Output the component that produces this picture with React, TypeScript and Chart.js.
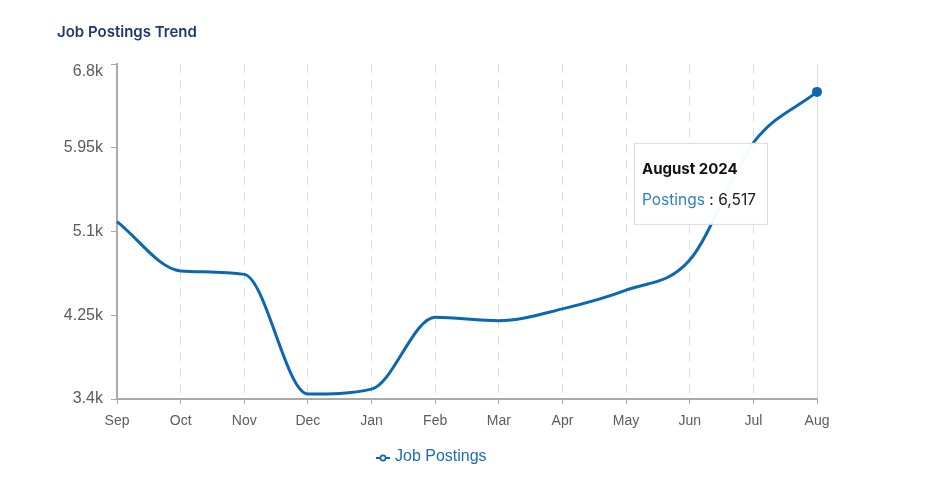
import React, { useEffect, useRef } from "react";
import { Chart, registerables } from "chart.js";

Chart.register(...registerables);

const months = ["Sep", "Oct", "Nov", "Dec", "Jan", "Feb", "Mar", "Apr", "May", "Jun", "Jul", "Aug"];
const postings = [5200, 4700, 4665, 3450, 3500, 4230, 4195, 4315, 4505, 4810, 6000, 6517];
const yTickValues = [3400, 4250, 5100, 5950, 6800];
const yTickLabels = ["3.4k", "4.25k", "5.1k", "5.95k", "6.8k"];
const tooltipTitle = "August 2024";
const tooltipLabel = "Postings";
const seriesName = "Job Postings";

const LINE = "#0b67b0";

const tooltipPlugin = {
  id: "staticTip",
  afterDatasetsDraw(chart: any) {
    const meta = chart.getDatasetMeta(0);
    const idx = postings.length - 1;
    const pt = meta.data[idx];
    if (!pt) return;
    const ctx = chart.ctx;
    const w = 133;
    const h = 81;
    const x = pt.x - 183;
    const y = pt.y + 51;
    ctx.save();
    ctx.fillStyle = "rgba(255,255,255,0.97)";
    ctx.fillRect(x, y, w, h);
    ctx.strokeStyle = "#dcdcdc";
    ctx.lineWidth = 1;
    ctx.strokeRect(x + 0.5, y + 0.5, w, h);
    ctx.textBaseline = "alphabetic";
    ctx.textAlign = "left";
    ctx.fillStyle = "#111";
    ctx.font = "700 15px Inter, 'Liberation Sans', Arial, sans-serif";
    ctx.fillText(tooltipTitle, x + 8, y + 31);
    ctx.font = "400 15.5px Inter, 'Liberation Sans', Arial, sans-serif";
    ctx.fillStyle = "#2f80c3";
    ctx.fillText(tooltipLabel, x + 8, y + 62);
    const lw = ctx.measureText(tooltipLabel).width;
    ctx.fillStyle = "#1a1a1a";
    ctx.fillText(" : " + postings[idx].toLocaleString("en-US"), x + 8 + lw, y + 62);
    ctx.restore();
  },
};

export default function App() {
  const ref = useRef<HTMLCanvasElement | null>(null);
  useEffect(() => {
    if (!ref.current) return;
    const chart = new Chart(ref.current, {
      type: "line",
      data: {
        labels: months,
        datasets: [
          {
            label: seriesName,
            data: postings,
            borderColor: LINE,
            backgroundColor: LINE,
            borderWidth: 3,
            cubicInterpolationMode: "monotone",
            pointRadius: (c: any) => (c.dataIndex === postings.length - 1 ? 5 : 0),
            pointBackgroundColor: LINE,
            pointBorderWidth: 0,
            fill: false,
          },
        ],
      },
      options: {
        responsive: false,
        animation: false,
        layout: { padding: { left: 57, right: 113, top: 64, bottom: 50 } },
        plugins: {
          legend: { display: false },
          tooltip: { enabled: false },
          title: { display: false },
        },
        scales: {
          x: {
            offset: false,
            grid: {
              display: true,
              drawOnChartArea: true,
              color: "#dedede",
              lineWidth: 1,
              drawTicks: true,
              tickLength: 5,
              tickColor: "#aaaaaa",
            },
            border: {
              display: true,
              color: "#aaaaaa",
              width: 2,
              dash: (c: any) => (c.index === months.length - 1 ? [] : [9, 7]),
            },
            ticks: {
              color: "#5c5c5c",
              padding: 9,
              font: { family: "'Liberation Sans', Arial, sans-serif", size: 14 },
              maxRotation: 0,
              autoSkip: false,
            },
            afterFit: (s: any) => {
              s.height = 40;
            },
          },
          y: {
            min: 3400,
            max: 6800,
            afterBuildTicks: (s: any) => {
              s.ticks = yTickValues.map((v) => ({ value: v }));
            },
            grid: {
              display: true,
              drawOnChartArea: false,
              drawTicks: true,
              tickLength: 6,
              tickColor: "#aaaaaa",
            },
            border: { display: true, color: "#aaaaaa", width: 2 },
            ticks: {
              color: "#5c5c5c",
              padding: 8,
              font: (c: any) => ({
                family: "'Liberation Sans', Arial, sans-serif",
                size: 16,
                lineHeight: c.index === yTickValues.length - 1 ? 0.9 : 1.2,
              }),
              callback: (v: any, i: number) => {
                const k = yTickValues.indexOf(Number(v));
                const lbl = k >= 0 ? yTickLabels[k] : "";
                return k === yTickValues.length - 1 ? ["", lbl] : lbl;
              },
            },
            afterFit: (s: any) => {
              s.width = 60;
            },
          },
        },
      },
      plugins: [tooltipPlugin],
    } as any);
    return () => chart.destroy();
  }, []);

  return (
    <div style={{ position: "fixed", left: 0, top: 0, width: 930, height: 489, background: "#fff", overflow: "hidden" }}>
      <canvas ref={ref} width={930} height={489} style={{ position: "absolute", left: 0, top: 0, width: 930, height: 489 }} />
      <div
        style={{
          position: "absolute",
          left: 57,
          top: 22,
          fontFamily: "Inter, 'Liberation Sans', Arial, sans-serif",
          fontWeight: 600,
          fontSize: 15,
          color: "#1e3a6b",
          whiteSpace: "nowrap",
        }}
      >
        Job Postings Trend
      </div>
      <div
        style={{
          position: "absolute",
          left: 375,
          top: 444,
          display: "flex",
          alignItems: "center",
          fontFamily: "'Liberation Sans', Arial, sans-serif",
          fontSize: 16,
          color: "#1f6db3",
          whiteSpace: "nowrap",
        }}
      >
        <svg width={16} height={20} style={{ marginRight: 4, marginTop: 4 }}>
          <line x1={1} y1={10} x2={15} y2={10} stroke={LINE} strokeWidth={2} />
          <circle cx={8} cy={10} r={2.6} fill="#fff" stroke={LINE} strokeWidth={1.6} />
        </svg>
        <span>{seriesName}</span>
      </div>
    </div>
  );
}
